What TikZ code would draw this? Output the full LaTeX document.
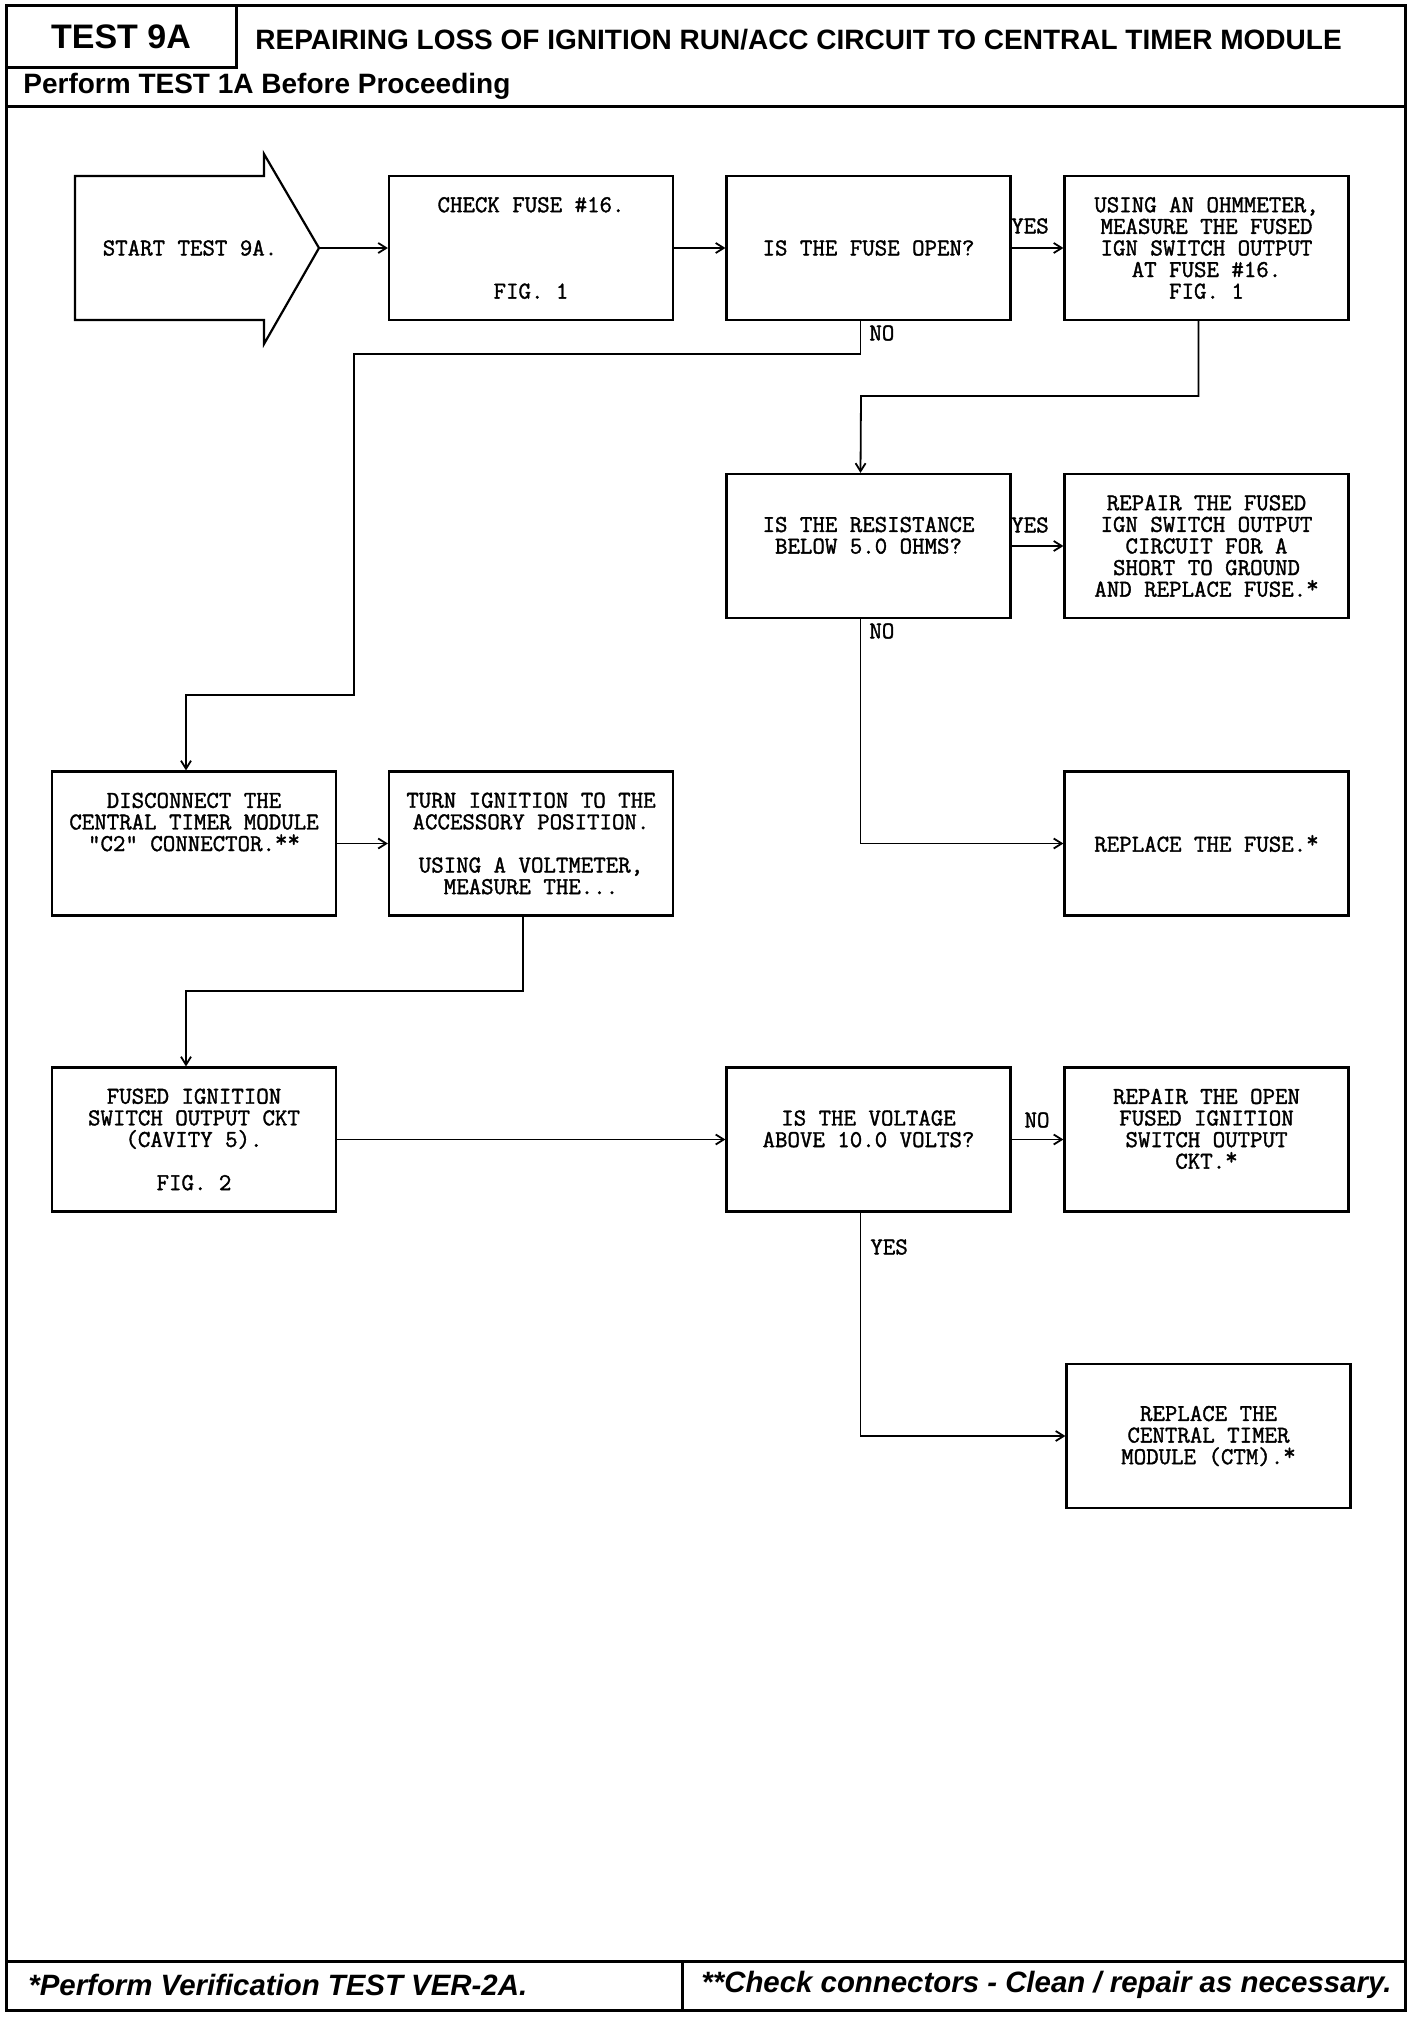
\documentclass[tikz,border=0pt]{standalone}
\usepackage{fontspec}
\usetikzlibrary{arrows.meta}
\newfontfamily\headfont{Liberation Sans}
\newfontfamily\monob{Latin Modern Mono}[FakeBold=1.5]
\newcommand{\bxfont}{\monob\fontsize{12.1}{10.8}\selectfont}
\newcommand{\myast}{\raisebox{2pt}{*}}
\begin{document}
\begin{tikzpicture}[x=0.5pt,y=-0.5pt,
  box/.style={draw, line width=1.1pt, minimum width=142pt, minimum height=72pt, inner sep=0pt, align=center,
    font=\bxfont},
  conn/.style={line width=0.9pt, -{Straight Barb[length=4pt,width=5pt]}},
  lbl/.style={font=\bxfont, inner sep=0pt},
  frame/.style={line width=1.5pt},
  headtxt/.style={font=\headfont\bfseries\fontsize{14}{16}\selectfont, inner sep=0pt},
  foottxt/.style={font=\headfont\bfseries\itshape\fontsize{14.7}{16}\selectfont, inner sep=0pt}]
\useasboundingbox (0,0) rectangle (1408,2018);
% frame
\draw[frame] (6,5) rectangle (1405,2010);
\draw[frame] (236,5) -- (236,67) -- (6,67);
\draw[frame] (6,106) -- (1405,106);
\draw[frame] (6,1961) -- (1405,1961);
\draw[frame] (682,1961) -- (682,2010);
% header texts
\node[font=\headfont\bfseries\fontsize{17}{18}\selectfont, inner sep=0pt] (ttl) at (121,37) {TEST 9A};
\node[headtxt, anchor=west] (title) at (255,40) {REPAIRING LOSS OF IGNITION RUN/ACC CIRCUIT TO CENTRAL TIMER MODULE};
\node[headtxt, anchor=west] (pre) at (23,86) {Perform TEST 1A Before Proceeding};
\node[foottxt, anchor=west] (f1) at (28,1985) {*Perform Verification TEST VER-2A.};
\node[foottxt, anchor=west] (f2) at (701,1985) {**Check connectors - Clean / repair as necessary.};
% start arrow
\draw[line width=1.1pt] (75,176) -- (264,176) -- (264,154) -- (319,248) -- (264,344) -- (264,320) -- (75,320) -- cycle;
\coordinate (starttip) at (319,248);
\node[lbl] (start) at (190,248) {START TEST 9A.};
% boxes
\node[box] (b2) at (531,248) {CHECK FUSE \#16.\\ \mbox{}\\ \mbox{}\\ \mbox{}\\ FIG. 1};
\node[box] (b3) at (868.5,248) {IS THE FUSE OPEN?};
\node[box] (b4) at (1206.5,248) {USING AN OHMMETER,\\ MEASURE THE FUSED\\ IGN SWITCH OUTPUT\\ AT FUSE \#16.\\ FIG. 1};
\node[box] (b5) at (868.5,546) {IS THE RESISTANCE\\ BELOW 5.0 OHMS?\\ \mbox{}};
\node[box] (b6) at (1206.5,546) {REPAIR THE FUSED\\ IGN SWITCH OUTPUT\\ CIRCUIT FOR A\\ SHORT TO GROUND\\ AND REPLACE FUSE.\myast};
\node[box] (b7) at (1206.5,843.5) {REPLACE THE FUSE.\myast};
\node[box] (b8) at (194,843.5) {DISCONNECT THE\\ CENTRAL TIMER MODULE\\ "C2" CONNECTOR.\myast\myast\\ \mbox{}\\ \mbox{}};
\node[box] (b9) at (531,843.5) {TURN IGNITION TO THE\\ ACCESSORY POSITION.\\ \mbox{}\\ USING A VOLTMETER,\\ MEASURE THE...};
\node[box] (b10) at (194,1139.5) {FUSED IGNITION\\ SWITCH OUTPUT CKT\\ (CAVITY 5).\\ \mbox{}\\ FIG. 2};
\node[box] (b11) at (868.5,1139.5) {IS THE VOLTAGE\\ ABOVE 10.0 VOLTS?\\ \mbox{}};
\node[box] (b12) at (1206.5,1139.5) {REPAIR THE OPEN\\ FUSED IGNITION\\ SWITCH OUTPUT\\ CKT.\myast\\ \mbox{}};
\node[box] (b13) at (1208.5,1436) {REPLACE THE\\ CENTRAL TIMER\\ MODULE (CTM).\myast};
% waypoints
\coordinate (w1) at (354,354);
\coordinate (w2) at (186,695);
\coordinate (w3) at (861,396);
\coordinate (w4) at (186,991);
% connectors
\draw[conn] (starttip) -- (b2.west);
\draw[conn] (b2.east) -- (b3.west);
\draw[conn] (b3.east) -- (b4.west);
\draw[conn] ([xshift=-4pt]b3.south) |- (w1) |- (w2) -- ([xshift=-4pt]b8.north);
\draw[conn] ([xshift=-4pt]b4.south) |- (w3) -- ([xshift=-4pt]b5.north);
\draw[conn] (b5.east) -- (b6.west);
\draw[conn] ([xshift=-4pt]b5.south) |- (b7.west);
\draw[conn] (b8.east) -- (b9.west);
\draw[conn] ([xshift=-4pt]b9.south) |- (w4) -- ([xshift=-4pt]b10.north);
\draw[conn] (b10.east) -- (b11.west);
\draw[conn] (b11.east) -- (b12.west);
\draw[conn] ([xshift=-4pt]b11.south) |- (b13.west);
% labels
\node[lbl] (l1) at (1030,226) {YES};
\node[lbl, anchor=west] (l2) at (869,333) {NO};
\node[lbl] (l3) at (1030,525) {YES};
\node[lbl, anchor=west] (l4) at (869,631) {NO};
\node[lbl] (l5) at (1037,1120) {NO};
\node[lbl, anchor=west] (l6) at (870,1247) {YES};
\end{tikzpicture}
\end{document}
